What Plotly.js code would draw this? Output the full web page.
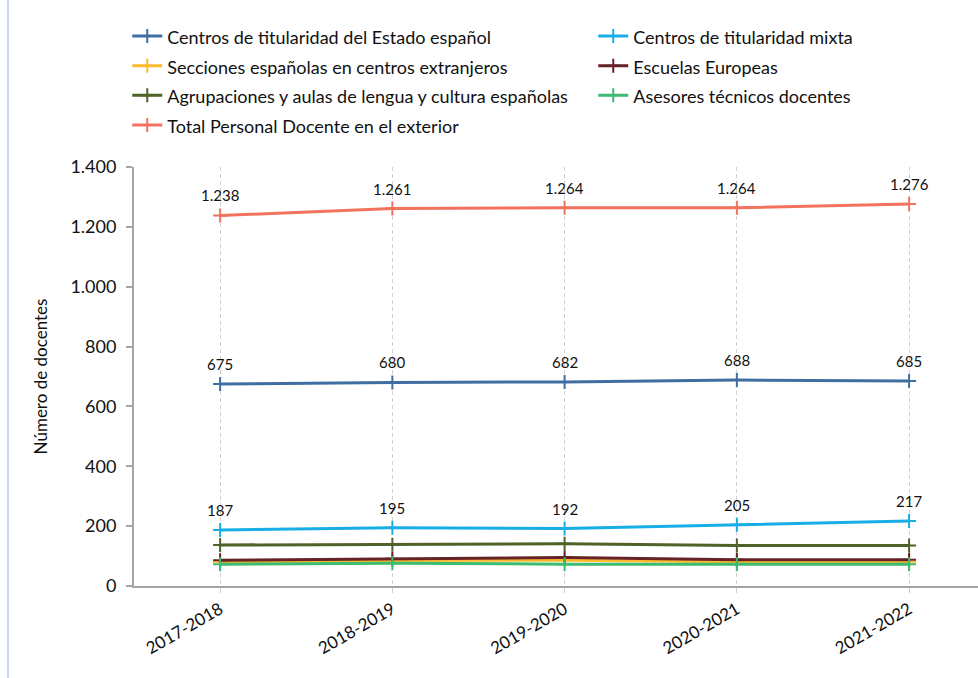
<!DOCTYPE html>
<html>
<head>
<meta charset="utf-8">
<script src="https://cdn.plot.ly/plotly-3.0.1.min.js"></script>
<style>
html,body{margin:0;padding:0;background:#fff;}
#wrap{position:relative;width:978px;height:678px;}
#frame{position:absolute;left:7px;top:0;width:2px;height:678px;background:#c9d5e8;}
#chart{position:absolute;left:0;top:0;width:978px;height:678px;}
</style>
</head>
<body>
<div id="wrap"><div id="chart"></div><div id="frame"></div></div>
<script>
const years = ['2017-2018','2018-2019','2019-2020','2020-2021','2021-2022'];
const estado = [675, 680, 682, 688, 685];
const mixta = [187, 195, 192, 205, 217];
const secciones = [81, 85, 86, 81, 81];
const escuelas = [86, 91, 95, 88, 88];
const agrupaciones = [137, 138, 141, 135, 135];
const asesores = [73, 76, 73, 73, 73];
const total = [1238, 1261, 1264, 1264, 1276];

const names = ['Centros de titularidad del Estado español','Centros de titularidad mixta','Secciones españolas en centros extranjeros','Escuelas Europeas','Agrupaciones y aulas de lengua y cultura españolas','Asesores técnicos docentes','Total Personal Docente en el exterior'];
const series = [estado, mixta, secciones, escuelas, agrupaciones, asesores, total];
const colors = ['#3F6FA2','#17AEE8','#FDBA2C','#652327','#4F6228','#3DBB72','#F2725E'];
const labelled = [0, 1, 6];

const FONT = 'Lato, "Open Sans", sans-serif';
const traces = series.map((s, i) => ({
  type: 'scatter', mode: 'lines+markers', x: years, y: s,
  name: '<span style="font-size:18px">' + names[i] + '</span>',
  line: {color: colors[i], width: 3},
  marker: {symbol: 'cross-thin', size: 10, line: {color: colors[i], width: 2}, color: colors[i]},
  hoverinfo: 'skip'
}));

function fmt(v){ return v.toString().replace(/\B(?=(\d{3})+(?!\d))/g, '.'); }
const annotations = [];
labelled.forEach(i => {
  series[i].forEach((v, j) => {
    annotations.push({x: years[j], y: v, text: fmt(v), showarrow: false, yshift: 20,
      font: {family: FONT, size: 15, color: '#111'}});
  });
});

const layout = {
  width: 978, height: 678,
  margin: {l: 134, r: 0, t: 167, b: 92, autoexpand: false},
  paper_bgcolor: '#fff', plot_bgcolor: '#fff',
  separators: ',.',
  font: {family: FONT, color: '#111'},
  showlegend: true,
  legend: {orientation: 'h', x: -0.008, y: 1.36, xanchor: 'left', yanchor: 'top',
    entrywidth: 421, entrywidthmode: 'pixels', font: {family: FONT, size: 20.5, color: '#111'},
    itemwidth: 30, tracegroupgap: 0, traceorder: 'normal'},
  xaxis: {type: 'category', range: [-0.5, 4.4], showline: true, linecolor: '#a3a3a8', linewidth: 2,
    showgrid: true, gridcolor: '#cfcfcf', griddash: '4px,3px', gridwidth: 1,
    ticks: 'outside', ticklen: 5, tickcolor: '#cfcfcf', tickangle: -30,
    tickfont: {family: FONT, size: 17, color: '#111'}, zeroline: false, fixedrange: true},
  yaxis: {range: [0, 1400], dtick: 200, tickformat: ',d', showline: true, linecolor: '#a3a3a8', linewidth: 2,
    showgrid: false, zeroline: false, ticks: 'outside', ticklen: 6, tickcolor: '#a3a3a8', tickwidth: 2,
    ticklabelstandoff: 6,
    tickfont: {family: FONT, size: 18, color: '#111'},
    title: {text: 'Número de docentes', font: {family: FONT, size: 17, color: '#111'}, standoff: 18}},
  annotations: annotations
};
Plotly.newPlot('chart', traces, layout, {displayModeBar: false, staticPlot: true});
</script>
</body>
</html>
